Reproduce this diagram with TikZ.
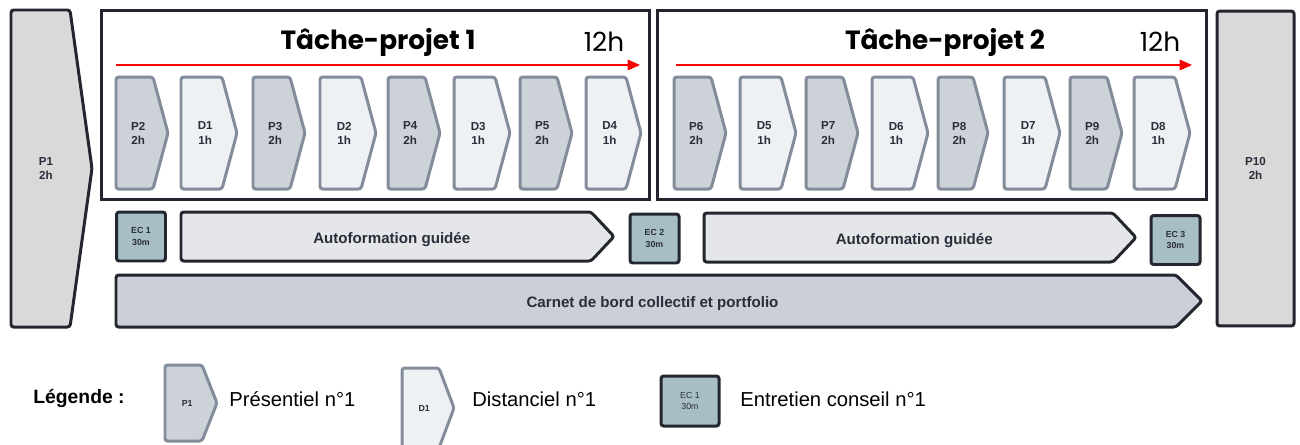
\documentclass[tikz,border=0pt]{standalone}
\usepackage{fontspec}
\setmainfont{Liberation Sans}
\newfontfamily\titlefont{Poppins}
\usepackage{tikz}
\usetikzlibrary{arrows.meta, positioning}

\definecolor{inkdark}{HTML}{23262F}
\definecolor{inkgray}{HTML}{838C9A}
\definecolor{presfill}{HTML}{CDD1D8}
\definecolor{distfill}{HTML}{EDF1F4}
\definecolor{capfill}{HTML}{D9D9D9}
\definecolor{ecfill}{HTML}{A7BEC6}
\definecolor{selffill}{HTML}{E5E6EA}
\definecolor{logfill}{HTML}{CBCFD7}
\definecolor{labelink}{HTML}{2B2D3A}

% chevron shape: style, name, left x, top y, width, height, point depth, text
\newcommand{\arrowbox}[8]{%
  \draw[#1] (#3,#4) -- ({#3+#5-#7},#4) -- ({#3+#5},{#4+#6/2})
    -- ({#3+#5-#7},{#4+#6}) -- (#3,{#4+#6}) -- cycle;
  \node[#1 text] (#2) at ({#3+(#5-#7/2)/2},{#4+#6/2}) {#8};
}

\tikzset{
    pres/.style={draw=inkgray, fill=presfill, line width=1.7pt, rounded corners=1.5pt}, % face-to-face session
    dist/.style={draw=inkgray, fill=distfill, line width=1.7pt, rounded corners=1.5pt}, % remote session
    pres text/.style={align=center, text=labelink, font=\fontsize{6.6}{8}\selectfont\bfseries},
    dist text/.style={pres text},
    legpres/.style={pres},
    legdist/.style={dist},
    legpres text/.style={text=labelink, font=\fontsize{5}{6}\selectfont\bfseries},
    legdist text/.style={legpres text},
    endcap/.style={draw=inkdark, fill=capfill, line width=1.7pt, rounded corners=1.5pt},
    endcap text/.style={pres text},
    selfbox/.style={draw=inkdark, fill=selffill, line width=1.7pt, rounded corners=1.5pt},
    selfbox text/.style={text=labelink, yshift=-1.5pt, font=\fontsize{8.6}{10}\selectfont\bfseries},
    logbox/.style={draw=inkdark, fill=logfill, line width=1.7pt, rounded corners=1.5pt},
    logbox text/.style={selfbox text},
    ecbox/.style={draw=inkdark, fill=ecfill, line width=1.7pt, rounded corners=1.5pt,
        minimum width=0.98cm, minimum height=0.98cm, inner sep=0pt, align=center,
        text=labelink, font=\fontsize{5}{6.3}\selectfont\bfseries},
    frame/.style={draw=inkdark, line width=1.7pt, inner sep=0pt,
        minimum width=10.98cm, minimum height=3.8cm},
    title/.style={font=\titlefont\fontsize{15}{18}\selectfont\bfseries, text=black},
    hours/.style={font=\titlefont\fontsize{15}{18}\selectfont, text=black},
    timeline/.style={red, line width=0.8pt, -{Triangle[length=7pt, width=6pt]}},
    legend text/.style={anchor=west, inner sep=0pt, font=\fontsize{11.5}{13}\selectfont},
}

\begin{document}
\begin{tikzpicture}[x=0.02cm, y=-0.02cm]
    \useasboundingbox (0,0) rectangle (1300,444);

    % first and last sessions
    \arrowbox{endcap}{p1}{11}{10}{81}{317}{22}{P1\\2h}
    \node[endcap, endcap text, minimum width=1.54cm, minimum height=6.3cm] (p10) at (1255.5,168.5) {P10\\2h};

    % task-projects
    \node[frame] (tp1) at (375.5,105) {};
    \node[frame] (tp2) at (932,105) {};
    \node[title] (tp1title) at (378,42) {Tâche-projet 1};
    \node[hours] (tp1hours) at (604,42) {12h};
    \node[title] (tp2title) at (945,42) {Tâche-projet 2};
    \node[hours] (tp2hours) at (1160,42) {12h};
    \coordinate (tl1a) at (116,65);
    \coordinate (tl1b) at (640,65);
    \coordinate (tl2a) at (676,65);
    \coordinate (tl2b) at (1192,65);
    \draw[timeline] (tl1a) -- (tl1b);
    \draw[timeline] (tl2a) -- (tl2b);

    \foreach \x/\w/\sid/\dur/\kind in {116/52/P2/2h/pres, 181/56/D1/1h/dist, 253/52/P3/2h/pres, 320/56/D2/1h/dist,
            388/52/P4/2h/pres, 454/56/D3/1h/dist, 520/52/P5/2h/pres, 586/55/D4/1h/dist,
            674/52/P6/2h/pres, 740/56/D5/1h/dist, 806/52/P7/2h/pres, 872/56/D6/1h/dist,
            938/50/P8/2h/pres, 1004/56/D7/1h/dist, 1070/52/P9/2h/pres, 1134/56/D8/1h/dist}
        \arrowbox{\kind}{s\sid}{\x}{77}{\w}{112}{15}{\sid\\\dur};

    % guidance interviews and self-study
    \node[ecbox] (ec1) at (141,236.5) {EC 1\\30m};
    \node[ecbox] (ec2) at (654.5,238.5) {EC 2\\30m};
    \node[ecbox] (ec3) at (1175.5,240) {EC 3\\30m};
    \arrowbox{selfbox}{af1}{181}{212}{433}{49}{23}{Autoformation guidée}
    \arrowbox{selfbox}{af2}{704}{213}{432}{49}{23}{Autoformation guidée}
    \arrowbox{logbox}{log}{116}{275}{1086}{52}{26}{Carnet de bord collectif et portfolio}

    % legend
    \node[anchor=west, inner sep=0pt, font=\fontsize{11}{13}\selectfont\bfseries] (leg) at (33,398) {Légende :};
    \arrowbox{legpres}{legp}{165}{365}{52}{76}{15}{P1}
    \node[legend text] (legptext) at (229,399) {Présentiel n°1};
    \arrowbox{legdist}{legd}{402}{368}{52}{80}{15}{D1}
    \node[legend text] (legdtext) at (472,399) {Distanciel n°1};
    \node[ecbox, minimum width=1.16cm, minimum height=1.0cm, font=\fontsize{5}{6.3}\selectfont] (legec) at (690,401) {EC 1\\30m};
    \node[legend text] (legectext) at (740,399) {Entretien conseil n°1};
\end{tikzpicture}
\end{document}
